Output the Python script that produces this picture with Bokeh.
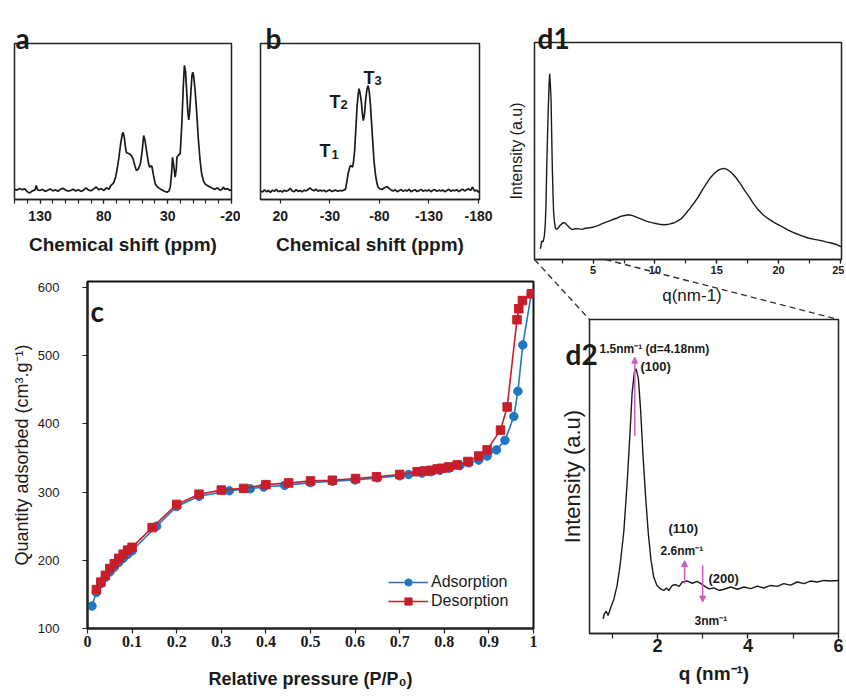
from bokeh.plotting import figure
from bokeh.layouts import row, column
from bokeh.models import Range1d, FixedTicker, Label, Arrow, NormalHead
from bokeh.core.properties import value
from bokeh.embed import file_html
from bokeh.resources import INLINE

# ---------------- data ----------------
# panel a : 13C NMR
a_ppm = [150, 148, 146, 144, 142, 140, 138, 136, 134, 133, 132, 130, 128, 126, 124, 122, 120, 118, 116, 114,
         112, 110, 108, 106, 104, 102, 100, 98, 96, 94, 92, 90, 88, 86, 84, 82, 80, 78, 76, 74.7,
         72.5, 70.8, 69.5, 68.2, 66.8, 65.5, 64.9, 64, 63, 62.3, 60.5, 59.2, 58, 57.1, 55.8, 54.5, 53, 51.4, 50, 48.8,
         47.8, 46.2, 45, 44.1, 43, 42.3, 41, 39.7, 38, 35.8, 33, 30.6, 29, 28, 27, 26.2, 25, 24.1, 23.2, 22.8,
         21.5, 20.2, 18.9, 17.8, 16.9, 16, 15, 14.2, 13.5, 12.8, 11.9, 11, 10.4, 9.6, 8.5, 7.2, 5.9, 4.6, 3.4, 2,
         0.8, -1, -3.1, -5, -7, -9, -11, -13, -13.5, -15, -17, -18.5, -20]
a_int = [6.5, 6.0, 7.0, 6.3, 6.8, 5.0, 4.2, 5.5, 6.0, 9.0, 6.2, 5.8, 6.5, 5.2, 6.0, 6.8, 5.5, 6.2, 5.3, 6.5,
         7.2, 6.0, 5.4, 5.8, 6.6, 5.5, 6.3, 5.2, 6.0, 7.5, 6.0, 5.6, 6.8, 8.0, 6.2, 7.0, 5.8, 7.5, 6.5, 8.8,
         10.5, 14.3, 20, 27, 36, 42, 43, 40, 33, 30, 29.5, 28.8, 27.5, 26, 22, 18.6, 19.5, 22.9, 31, 41,
         38, 29.3, 23, 20.7, 21.5, 21, 15, 10, 8, 6.8, 5.5, 4.7, 5.5, 7.9, 16, 27, 20, 14.3, 20, 27,
         28.5, 29.3, 48.5, 72, 86, 82, 67.7, 56, 51, 56, 67.7, 79, 81.6, 79, 70, 55, 37.8, 25, 16.5, 12,
         10, 9, 8, 7.2, 6.5, 7.5, 6.0, 6.8, 8.0, 6.5, 7.0, 5.8, 6.2]
a_ticks = [130, 80, 30, -20]
a_tick_labels = ["130", "80", "30", "-20"]
a_minor = [150, 140, 130, 120, 110, 100, 90, 80, 70, 60, 50, 40, 30, 20, 10, 0, -10, -20]

# panel b : 29Si NMR
b_ppm = [40, 38, 36, 34, 32, 30, 28, 26, 24, 22, 20, 18, 16, 14, 12, 10, 8, 6, 4, 2,
         0, -2, -4, -6, -8, -10, -12, -14, -16, -18, -20, -22, -24, -26, -28, -30, -32, -34, -36, -38,
         -40, -42, -44, -45.7, -47, -48.4, -50, -50.7, -52, -53, -54, -55, -56.2, -57.4, -58.5, -59.5, -60.5, -61.8, -62.8, -63.8,
         -65, -66.2, -67.4, -68.6, -69.8, -70.9, -72, -73.2, -74.5, -75.9, -77.3, -78.6, -80.5, -82.7, -85, -87.8, -90, -92, -94, -96,
         -98, -100, -102, -104, -106, -108, -110, -112, -114, -116, -118, -120, -122, -124, -126, -128, -130, -132, -134, -136,
         -138, -140, -142, -144, -146, -148, -150, -152, -154, -156, -158, -160, -162, -164, -166, -168, -170, -172, -174, -176,
         -178, -180, -181]
b_int = [5.5, 4.8, 6.2, 5.0, 5.8, 4.5, 6.0, 5.2, 6.5, 5.0, 5.6, 4.8, 6.0, 5.3, 5.9, 7.2, 5.5, 5.0, 6.3, 5.2,
         5.8, 4.9, 6.0, 5.5, 6.4, 7.4, 6.2, 5.6, 6.6, 5.3, 6.0, 5.4, 5.9, 5.0, 5.6, 6.2, 5.1, 5.7, 6.0, 5.3,
         5.8, 5.5, 6.0, 6.5, 11, 16.5, 20.5, 21.8, 21.5, 20.7, 25, 31.4, 45, 59.2, 67, 71, 68, 62.4, 55, 50.6,
         55, 64.5, 70.5, 73, 69, 61.3, 50, 37.8, 25, 16.5, 11, 8, 6.8, 6.4, 7.5, 8.3, 7.0, 6.0, 5.5, 6.2,
         5.0, 5.8, 6.4, 5.2, 6.0, 5.4, 6.6, 5.0, 5.8, 6.3, 5.1, 5.7, 6.5, 5.3, 6.0, 5.5, 6.2, 5.0, 5.9, 6.4,
         5.2, 6.0, 5.4, 6.1, 5.0, 5.8, 6.5, 5.3, 6.0, 5.6, 6.3, 5.1, 5.9, 6.6, 5.5, 6.2, 6.8, 5.8, 8.0, 5.4,
         6.0, 4.8, 5.2]
b_ticks = [20, -30, -80, -130, -180]
b_tick_labels = ["20", "-30", "-80", "-130", "-180"]
b_peak_names = ["T", "T", "T"]
b_peak_subs = ["1", "2", "3"]

# panel c : N2 isotherm
ads_x = [0.01, 0.02, 0.03, 0.04, 0.05, 0.06, 0.07, 0.08, 0.09, 0.10, 0.155, 0.20, 0.25, 0.318, 0.365, 0.395, 0.442,
         0.50, 0.55, 0.60, 0.65, 0.70, 0.72, 0.75, 0.77, 0.79, 0.81, 0.835, 0.855, 0.877, 0.896, 0.917, 0.936,
         0.956, 0.965, 0.976, 0.995]
ads_y = [133, 153, 166, 175, 183, 190, 197, 203, 209, 214, 250, 279, 294, 302, 305, 307.5, 310,
         314, 316, 318, 321, 324, 326, 328, 330, 332, 335, 339, 343, 347, 353, 362, 376,
         411, 448, 516, 591]
des_x = [0.995, 0.975, 0.967, 0.963, 0.941, 0.926, 0.896, 0.877, 0.853, 0.829, 0.81, 0.795, 0.784, 0.77, 0.755,
         0.739, 0.70, 0.648, 0.601, 0.549, 0.50, 0.451, 0.40, 0.35, 0.30, 0.25, 0.20, 0.145, 0.10, 0.09,
         0.08, 0.07, 0.06, 0.05, 0.04, 0.03, 0.02]
des_y = [591, 581, 569, 553, 425, 391, 362, 353, 345, 340, 337, 335, 334, 332, 331,
         330, 326, 322.5, 320, 317.5, 316.5, 313.5, 311, 305.5, 303, 297, 282, 248, 219, 215,
         209, 203, 195, 188, 178, 168, 157]
c_xticks = [0, 0.1, 0.2, 0.3, 0.4, 0.5, 0.6, 0.7, 0.8, 0.9, 1.0]
c_xtick_labels = ["0", "0.1", "0.2", "0.3", "0.4", "0.5", "0.6", "0.7", "0.8", "0.9", "1"]
c_yticks = [100, 200, 300, 400, 500, 600]
c_series = ["Adsorption", "Desorption"]

# panel d1 : scattering, full q range
d1_q = [0.70, 0.75, 0.83, 0.96, 1.05, 1.12, 1.18, 1.23, 1.30, 1.37, 1.43, 1.48, 1.53, 1.59, 1.64, 1.69, 1.75, 1.80,
        1.88, 1.96, 2.06, 2.17, 2.30, 2.44, 2.58, 2.72, 2.85, 2.98, 3.15, 3.31, 3.55, 3.84, 4.1, 4.38, 4.7, 5.05,
        5.4, 5.73, 6.1, 6.53, 6.9, 7.2, 7.55, 7.88, 8.2, 8.55, 8.95, 9.35, 9.75, 10.16, 10.5, 10.83, 11.15, 11.5,
        11.85, 12.18, 12.5, 12.85, 13.2, 13.52, 13.85, 14.19, 14.5, 14.86, 15.2, 15.54, 15.85, 16.2, 16.55, 16.88,
        17.2, 17.56, 17.95, 18.36, 18.75, 19.17, 19.7, 20.24, 20.75, 21.3, 21.85, 22.4, 22.9, 23.47, 23.9, 24.27,
        24.7, 25.1]
d1_i = [5.0, 5.4, 8.4, 8.3, 11, 16, 25, 39.8, 56, 70.3, 81, 85.6, 81, 73.4, 58, 42.8, 30, 21.4,
        16.5, 14.1, 14.0, 14.5, 15.6, 16.4, 17.0, 16.8, 16.0, 15.3, 14.3, 13.8, 14.2, 14.1, 13.9, 14.4, 14.6, 15.0,
        15.6, 16.5, 17.3, 18.3, 19.0, 19.9, 20.3, 20.6, 20.2, 19.4, 18.5, 17.6, 17.0, 16.5, 16.1, 16.0, 16.3, 16.8,
        17.8, 19.1, 21.2, 23.7, 26.3, 29.0, 32.2, 35.2, 37.8, 40.0, 41.4, 42.0, 41.5, 40.0, 37.8, 35.2,
        32.3, 29.4, 26.0, 22.9, 20.6, 18.8, 16.9, 15.3, 13.7, 12.2, 11.0, 9.9, 9.3, 8.7, 8.0, 7.6,
        6.9, 5.8]
d1_ticks = [5, 10, 15, 20, 25]
d1_tick_labels = ["5", "10", "15", "20", "25"]
d1_minor = [2.5, 5, 7.5, 10, 12.5, 15, 17.5, 20, 22.5, 25]
d1_zoom_q = [0.25, 6.0]   # q-window that d2 enlarges

# panel d2 : scattering, low q
d2_q = [0.80, 0.83, 0.87, 0.91, 0.96, 1.04, 1.11, 1.18, 1.26, 1.33, 1.39, 1.44, 1.49, 1.53, 1.58, 1.63, 1.68, 1.74,
        1.80, 1.86, 1.92, 1.99, 2.07, 2.14, 2.20, 2.25, 2.33, 2.40, 2.48, 2.55, 2.66, 2.77, 2.88, 2.96, 3.05, 3.14,
        3.25, 3.36, 3.47, 3.62, 3.77, 3.91, 4.06, 4.21, 4.35, 4.50, 4.65, 4.79, 4.94, 5.09, 5.24, 5.38, 5.53, 5.68,
        5.82, 6.0]
d2_i = [4.7, 6.3, 7.1, 5.7, 7.9, 11, 15.3, 22.2, 32.8, 47.7, 62.5, 76.3, 83.2, 84.3, 81.1, 71, 57.2, 43.4,
        31.7, 23.2, 17.9, 15.3, 14.2, 13.7, 14.5, 13.7, 15.3, 15.6, 15.0, 16.4, 16.7, 16.0, 16.6, 15.9, 15.0, 14.2,
        14.5, 13.7, 14.1, 14.8, 14.1, 14.8, 14.3, 15.1, 14.5, 15.3, 15.0, 15.9, 15.4, 16.4, 15.9, 16.7, 16.4, 16.9,
        16.7, 16.9]
d2_ticks = [2, 4, 6]
d2_tick_labels = ["2", "4", "6"]
d2_minor = [1, 2, 3, 4, 5, 6]
d2_peak_q = [1.5, 2.6, 3.0]
d2_peak_hkl = ["(100)", "(110)", "(200)"]
d2_peak_text = ["1.5nm\u207b\u00b9 (d=4.18nm)", "2.6nm\u207b\u00b9", "3nm\u207b\u00b9"]

panel_letters = ["a", "b", "d1", "d2"]

# ---------------- style ----------------
SANS = "Liberation Sans"
SERIF = "Liberation Serif"
HEAD = "Lato"
TXT = "#1a1a1a"
LINE = "#1a1a1a"
BLUE = "#1f77c4"
RED = "#c81e2a"
MAG = "#cc5cc0"
PAGE_W, PAGE_H = 844, 694


def frame_fig(width, height, fr, win, xr, yr, y_axis=True):
    x0, x1, y0, y1 = fr
    wx, wy = win
    p = figure(width=width, height=height, x_range=Range1d(*xr), y_range=Range1d(*yr),
               output_backend="svg", toolbar_location=None, tools="",
               y_axis_location="left" if y_axis else None,
               min_border_left=x0 - wx, min_border_right=wx + width - x1,
               min_border_top=y0 - wy, min_border_bottom=wy + height - y1)
    p.frame_align = False
    p.grid.visible = False
    p.outline_line_color = "#222222"
    p.outline_line_width = 1.5
    p.outline_line_alpha = 1.0
    p.background_fill_color = "white"
    p.border_fill_color = "white"
    return p


def to_data(fr, xr, yr, px, py):
    x0, x1, y0, y1 = fr
    return (xr[0] + (px - x0) * (xr[1] - xr[0]) / (x1 - x0),
            yr[0] + (y1 - py) * (yr[1] - yr[0]) / (y1 - y0))


def to_px(fr, xr, x):
    x0, x1 = fr[0], fr[1]
    return x0 + (x - xr[0]) * (x1 - x0) / (xr[1] - xr[0])


def style_axis(ax, ticks, labels, minor, font, size, bold, tick_out, standoff,
               title, title_font, title_size, title_bold, title_standoff):
    ax.ticker = FixedTicker(ticks=ticks, minor_ticks=minor)
    ax.major_label_overrides = {t: l for t, l in zip(ticks, labels)}
    ax.major_label_text_font = font
    ax.major_label_text_font_size = f"{size}px"
    ax.major_label_text_font_style = "bold" if bold else "normal"
    ax.major_label_text_color = TXT
    ax.major_label_standoff = standoff
    ax.major_tick_in = 0
    ax.major_tick_out = tick_out
    ax.minor_tick_in = 0
    ax.minor_tick_out = tick_out if minor else 0
    ax.major_tick_line_color = "#222222"
    ax.minor_tick_line_color = "#222222"
    ax.major_tick_line_width = 1.2
    ax.minor_tick_line_width = 1.2
    ax.axis_line_color = "#222222"
    ax.axis_line_width = 1.5
    ax.axis_label = title
    ax.axis_label_text_font = title_font
    ax.axis_label_text_font_size = f"{title_size}px"
    ax.axis_label_text_font_style = "bold" if title_bold else "normal"
    ax.axis_label_text_color = TXT
    ax.axis_label_standoff = title_standoff


def label_only_yaxis(ax, title, size, standoff):
    ax.ticker = FixedTicker(ticks=[])
    ax.axis_line_color = None
    ax.major_tick_line_color = None
    ax.minor_tick_line_color = None
    ax.major_tick_out = 0
    ax.major_tick_in = 0
    ax.minor_tick_out = 0
    ax.minor_tick_in = 0
    ax.major_label_standoff = 0
    ax.major_label_text_font_size = "0px"
    ax.axis_label = title
    ax.axis_label_text_font = SANS
    ax.axis_label_text_font_size = f"{size}px"
    ax.axis_label_text_font_style = "normal"
    ax.axis_label_text_color = TXT
    ax.axis_label_standoff = standoff


def add_label(p, fr, xr, yr, px, py, text, font, size, bold=True):
    x, y = to_data(fr, xr, yr, px, py)
    p.add_layout(Label(x=x, y=y, text=text, text_font=font, text_font_size=f"{size}px",
                       text_font_style="bold" if bold else "normal", text_color=TXT,
                       text_align="left", text_baseline="alphabetic"))


# ---------------- panel a ----------------
A_FR, A_WIN, A_XR, A_YR = (14, 231, 43, 199), (0, 0), (150, -20), (0, 100)
pa = frame_fig(240, 280, A_FR, A_WIN, A_XR, A_YR, y_axis=False)
pa.line(a_ppm, a_int, line_color=LINE, line_width=1.7)
style_axis(pa.xaxis[0], a_ticks, a_tick_labels, a_minor, SANS, 14, True, 4, 7,
           "Chemical shift (ppm)", SANS, 19, True, 10)

# ---------------- panel b ----------------
B_FR, B_WIN, B_XR, B_YR = (260, 479, 43, 199), (240, 0), (40, -181), (0, 100)
pb = frame_fig(260, 280, B_FR, B_WIN, B_XR, B_YR, y_axis=False)
pb.line(b_ppm, b_int, line_color=LINE, line_width=1.7)
style_axis(pb.xaxis[0], b_ticks, b_tick_labels, [], SANS, 14, True, 4, 7,
           "Chemical shift (ppm)", SANS, 19, True, 10)
t_pos = [(319, 150, 331, 154), (329, 101, 340, 104), (363, 77, 374, 80)]
for name, sub, (tx, ty, sx, sy) in zip(b_peak_names, b_peak_subs, t_pos):
    add_label(pb, B_FR, B_XR, B_YR, tx, ty, name, SANS, 18)
    add_label(pb, B_FR, B_XR, B_YR, sx, sy, sub, SANS, 13)

# ---------------- panel d1 ----------------
D1_FR, D1_WIN, D1_XR, D1_YR = (534, 841, 42, 259), (500, 0), (0.25, 25.1), (0, 100)
pd1 = frame_fig(344, 280, D1_FR, D1_WIN, D1_XR, D1_YR)
pd1.line(d1_q, d1_i, line_color=LINE, line_width=1.4)
style_axis(pd1.xaxis[0], d1_ticks, d1_tick_labels, d1_minor, SANS, 11, True, 4, 2,
           "", SANS, 12, False, 0)
label_only_yaxis(pd1.yaxis[0], "Intensity (a.u)", 16, 10)

# ---------------- panel c ----------------
C_FR, C_WIN, C_XR, C_YR = (87, 533, 281, 628), (0, 280), (0, 1), (100, 609)
pc = frame_fig(545, 414, C_FR, C_WIN, C_XR, C_YR)
pc.outline_line_color = "#111111"
pc.outline_line_width = 2
pc.line(ads_x, ads_y, line_color=BLUE, line_width=1.6, legend_label=c_series[0])
pc.scatter(ads_x, ads_y, marker="circle", size=8.5, fill_color=BLUE, line_color=BLUE, legend_label=c_series[0])
pc.line(des_x, des_y, line_color=RED, line_width=1.6, legend_label=c_series[1])
pc.scatter(des_x, des_y, marker="square", size=8.5, fill_color=RED, line_color=RED, legend_label=c_series[1])
style_axis(pc.xaxis[0], c_xticks, c_xtick_labels, [], SERIF, 16, True, 5, 2,
           "Relative pressure (P/P\u2080)", SANS, 18, True, 19)
style_axis(pc.yaxis[0], c_yticks, [str(t) for t in c_yticks], [], SANS, 13, False, 5, 23,
           "Quantity adsorbed (cm\u00b3.g\u207b\u00b9)", SANS, 18, False, 3)
pc.xaxis[0].axis_line_width = 2
pc.yaxis[0].axis_line_width = 2
lg = pc.legend[0]
lg.location = (301, 18)
lg.border_line_color = None
lg.background_fill_alpha = 0
lg.padding = 0
lg.margin = 0
lg.spacing = 1
lg.glyph_width = 40
lg.glyph_height = 18
lg.label_height = 18
lg.label_standoff = 3
lg.label_text_font = SANS
lg.label_text_font_size = "16px"
lg.label_text_color = TXT
add_label(pc, C_FR, C_XR, C_YR, 90, 310, "c", HEAD, 28)

# ---------------- panel d2 ----------------
D2_FR, D2_WIN, D2_XR, D2_YR = (589, 838, 319, 633), (545, 280), (0.5, 6.0), (0, 100)
pd2 = frame_fig(299, 414, D2_FR, D2_WIN, D2_XR, D2_YR)
pd2.line(d2_q, d2_i, line_color=LINE, line_width=1.4)
style_axis(pd2.xaxis[0], d2_ticks, d2_tick_labels, d2_minor, SANS, 18, True, 5, 0,
           "q (nm\u207b\u00b9)", SANS, 19, True, 8)
label_only_yaxis(pd2.yaxis[0], "Intensity (a.u)", 22, 5)

arrow_spans = [(63, 88), (15.9, 23.2), (21.7, 10)]
for q, (ys, ye) in zip(d2_peak_q, arrow_spans):
    pd2.add_layout(Arrow(x_start=q, y_start=ys, x_end=q, y_end=ye, line_color=MAG, line_width=1.5,
                         end=NormalHead(size=6, fill_color=MAG, line_color=MAG)))
hkl_pos = [(640, 366), (668, 528), (708, 578)]
txt_pos = [(599, 348), (660, 550), (694, 620)]
for lab, (hx, hy) in zip(d2_peak_hkl, hkl_pos):
    add_label(pd2, D2_FR, D2_XR, D2_YR, hx, hy, lab, SANS, 13)
for lab, (hx, hy) in zip(d2_peak_text, txt_pos):
    add_label(pd2, D2_FR, D2_XR, D2_YR, hx, hy, lab, SANS, 12)

main = column(row(pa, pb, pd1), row(pc, pd2))

# ---------------- transparent overlay (page pixels) ----------------
ov = figure(width=PAGE_W, height=PAGE_H, x_range=Range1d(0, PAGE_W), y_range=Range1d(PAGE_H, 0),
            output_backend="svg", toolbar_location=None, tools="",
            min_border=0, x_axis_location=None, y_axis_location=None)
ov.grid.visible = False
ov.outline_line_color = None
ov.background_fill_alpha = 0
ov.border_fill_alpha = 0
ov.styles = {"position": "absolute", "left": "0px", "top": "0px", "z-index": "10", "pointer-events": "none"}

# zoom connectors: d1 q-window -> d2 frame corners
zl = to_px(D1_FR, D1_XR, d1_zoom_q[0])
zr = to_px(D1_FR, D1_XR, d1_zoom_q[1])
ov.segment(x0=[zl, zr], y0=[D1_FR[3], D1_FR[3]], x1=[D2_FR[0], D2_FR[1]], y1=[D2_FR[2], D2_FR[2]],
           line_color="#333333", line_width=1.4, line_dash="6 4")

# panel letters outside the frames
letter_pos = [(15, 37), (265, 37), (537, 37), (565, 353)]
ov.text(x=[p[0] for p in letter_pos], y=[p[1] for p in letter_pos], text=panel_letters,
        text_font=value(HEAD), text_font_size=value("28px"), text_font_style=value("bold"),
        text_color=TXT, text_align="left", text_baseline="alphabetic")
# x title of d1, sitting in the gap above d2
ov.text(x=[(D1_FR[0] + D1_FR[1]) / 2 + 4], y=[295], text=["q(nm-1)"],
        text_font=value(SANS), text_font_size=value("17px"), text_color=TXT,
        text_align="center", text_baseline="middle")

open("out.html", "w").write(file_html([main, ov], INLINE))
